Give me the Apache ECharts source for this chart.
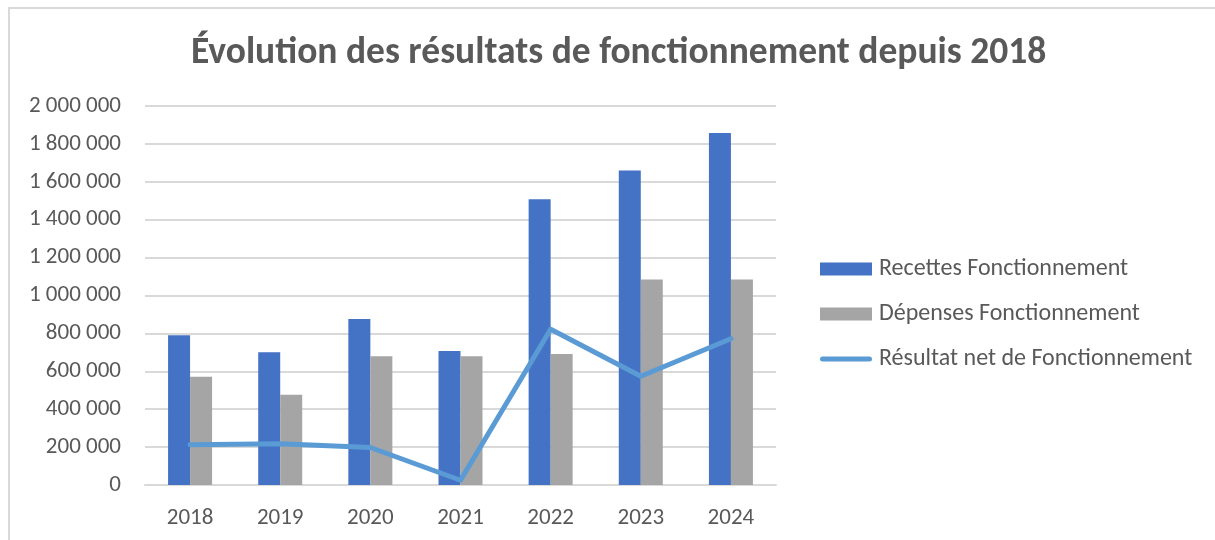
<!DOCTYPE html>
<html>
<head>
<meta charset="utf-8">
<script src="https://cdn.jsdelivr.net/npm/echarts@6/dist/echarts.min.js"></script>
<style>
  html, body { margin: 0; padding: 0; background: #fff; }
  #chart { width: 1215px; height: 540px; position: relative; }
  #frame {
    position: absolute; left: 8px; top: 7px; right: 0; bottom: 0;
    border-left: 2px solid #d9d9d9; border-top: 2px solid #d9d9d9;
    pointer-events: none;
  }
</style>
</head>
<body>
<div id="chart"></div>
<div id="frame"></div>
<script>
const years = ['2018', '2019', '2020', '2021', '2022', '2023', '2024']
const recettes = [790000, 700000, 876000, 707000, 1508000, 1660000, 1857000]
const depenses = [571000, 476000, 680000, 680000, 691000, 1084000, 1084000]
const resultat = [212000, 218000, 198000, 25000, 822000, 574000, 772000]

const FONT = 'Carlito, "Liberation Sans", "Open Sans", sans-serif'
const TEXT = '#595959'

const fmt = v => String(v).replace(/\B(?=(\d{3})+(?!\d))/g, ' ')

// legend icon for the line: thick bar with rounded ends
const lineIcon = 'path://M2.5,0 L49.5,0 A2.5,2.5 0 0 1 49.5,5 L2.5,5 A2.5,2.5 0 0 1 2.5,0 Z'

const chart = echarts.init(document.getElementById('chart'), undefined, { renderer: 'canvas' })

chart.setOption({
  animation: false,
  textStyle: { fontFamily: FONT },
  title: {
    text: 'Évolution des résultats de fonctionnement depuis 2018',
    left: 186,
    top: 30,
    textStyle: { fontFamily: FONT, fontSize: 37.5, fontWeight: 'bold', color: TEXT }
  },
  grid: { left: 145, right: 439, top: 106, bottom: 55 },
  legend: {
    orient: 'vertical',
    left: 815,
    top: 252,
    itemWidth: 52,
    itemHeight: 13,
    itemGap: 21,
    textStyle: { fontFamily: FONT, fontSize: 24, lineHeight: 24, color: TEXT, padding: [0, 0, 0, 2] },
    data: [
      { name: 'Recettes Fonctionnement', icon: 'rect' },
      { name: 'Dépenses Fonctionnement', icon: 'rect' },
      { name: 'Résultat net de Fonctionnement', icon: lineIcon }
    ]
  },
  xAxis: {
    type: 'category',
    data: years,
    axisLine: { lineStyle: { color: '#d9d9d9', width: 2 } },
    axisTick: { show: false },
    axisLabel: { fontSize: 23, color: TEXT, margin: 22 }
  },
  yAxis: {
    type: 'value',
    min: 0,
    max: 2000000,
    interval: 200000,
    axisLine: { show: false },
    axisTick: { show: false },
    splitLine: { lineStyle: { color: '#d9d9d9', width: 2 } },
    axisLabel: { fontSize: 23, color: TEXT, margin: 24, formatter: fmt }
  },
  series: [
    {
      name: 'Recettes Fonctionnement',
      type: 'bar',
      data: recettes,
      barWidth: 22,
      barGap: '0%',
      itemStyle: { color: '#4472C4' }
    },
    {
      name: 'Dépenses Fonctionnement',
      type: 'bar',
      data: depenses,
      barWidth: 22,
      itemStyle: { color: '#A5A5A5' }
    },
    {
      name: 'Résultat net de Fonctionnement',
      type: 'line',
      data: resultat,
      symbol: 'none',
      lineStyle: { color: '#5B9BD5', width: 5, cap: 'round', join: 'round' },
      itemStyle: { color: '#5B9BD5', borderWidth: 0 }
    }
  ]
})
</script>
</body>
</html>
